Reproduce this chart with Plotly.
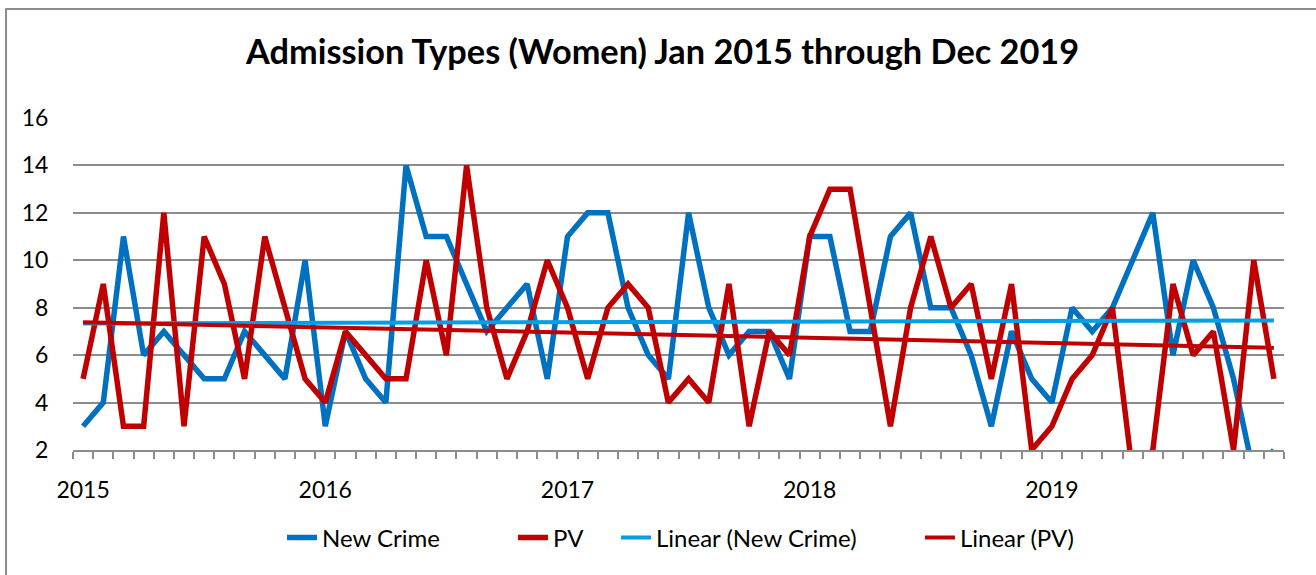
import numpy as np
import plotly.graph_objects as go

years = ["2015", "2016", "2017", "2018", "2019"]
months_per_year = 12

new_crime = [3, 4, 11, 6, 7, 6, 5, 5, 7, 6, 5, 10,
             3, 7, 5, 4, 14, 11, 11, 9, 7, 8, 9, 5,
             11, 12, 12, 8, 6, 5, 12, 8, 6, 7, 7, 5,
             11, 11, 7, 7, 11, 12, 8, 8, 6, 3, 7, 5,
             4, 8, 7, 8, 10, 12, 6, 10, 8, 5, 1, 2]

pv = [5, 9, 3, 3, 12, 3, 11, 9, 5, 11, 8, 5,
      4, 7, 6, 5, 5, 10, 6, 14, 8, 5, 7, 10,
      8, 5, 8, 9, 8, 4, 5, 4, 9, 3, 7, 6,
      11, 13, 13, 8, 3, 8, 11, 8, 9, 5, 9, 2,
      3, 5, 6, 8, 1, 2, 9, 6, 7, 2, 10, 5]

y_ticks = [2, 4, 6, 8, 10, 12, 14, 16]

n = len(new_crime)
x = np.arange(n)

# Linear trendlines (least squares fit, as in the spreadsheet)
nc_trend = np.polyval(np.polyfit(x + 1, new_crime, 1), x + 1)
pv_trend = np.polyval(np.polyfit(x + 1, pv, 1), x + 1)

FONT = "Lato"
GRID = "#8c8c8c"
LFONT = dict(family=FONT, size=24, color="#000000")

fig = go.Figure()
fig.add_trace(go.Scatter(x=x, y=new_crime, mode="lines", name="New Crime",
                         line=dict(color="#0070C0", width=5.5), legend="legend"))
fig.add_trace(go.Scatter(x=x, y=pv, mode="lines", name="PV",
                         line=dict(color="#C00000", width=5.5), legend="legend2"))
fig.add_trace(go.Scatter(x=x, y=nc_trend, mode="lines", name="Linear (New Crime)",
                         line=dict(color="#00A0E6", width=4), legend="legend3"))
fig.add_trace(go.Scatter(x=x, y=pv_trend, mode="lines", name="Linear (PV)",
                         line=dict(color="#C00000", width=4), legend="legend4"))

leg_y = -0.265
def leg(xpos):
    return dict(orientation="h", x=xpos, xanchor="left", y=leg_y, yanchor="middle",
                font=LFONT, bgcolor="rgba(0,0,0,0)", borderwidth=0)

fig.update_layout(
    width=1316, height=575,
    margin=dict(l=73, r=32, t=118, b=125),
    paper_bgcolor="white", plot_bgcolor="white",
    font=dict(family=FONT, size=23, color="#000000"),
    title=dict(text="<b>Admission Types (Women) Jan 2015 through Dec 2019</b>",
               x=0.5035, xanchor="center", y=0.9096, yanchor="middle",
               font=dict(family=FONT, size=34.3, color="#000000")),
    showlegend=True,
    legend=leg(0.1726),
    legend2=leg(0.3633),
    legend3=leg(0.4484),
    legend4=leg(0.6994),
    shapes=[dict(type="rect", xref="paper", yref="paper",
                 x0=-0.0553, x1=1.1, y0=-0.6, y1=1.328,
                 line=dict(color="#8c8c8c", width=2), fillcolor="rgba(0,0,0,0)",
                 layer="below")],
)

fig.update_xaxes(
    range=[-0.5, n - 0.5],
    tickmode="array",
    tickvals=[i * months_per_year for i in range(len(years))],
    ticktext=years,
    ticks="", showgrid=False, zeroline=False,
    showline=True, linecolor=GRID, linewidth=2,
    ticklabelstandoff=18,
    minor=dict(tickmode="array", tickvals=[i - 0.5 for i in range(n + 1)],
               ticks="outside", ticklen=7, tickcolor=GRID, tickwidth=1.5, showgrid=False),
    tickfont=dict(family=FONT, size=23),
    automargin=False,
)
fig.update_yaxes(
    range=[2, 16],
    tickmode="array", tickvals=y_ticks,
    showgrid=True, gridcolor=GRID, gridwidth=2,
    zeroline=False, showline=False,
    ticks="outside", ticklen=19, tickcolor="rgba(0,0,0,0)",
    tickfont=dict(family=FONT, size=23),
    automargin=False,
)

fig.write_html("out.html", config={"displayModeBar": False},
               post_script="document.body.style.margin='0';")
